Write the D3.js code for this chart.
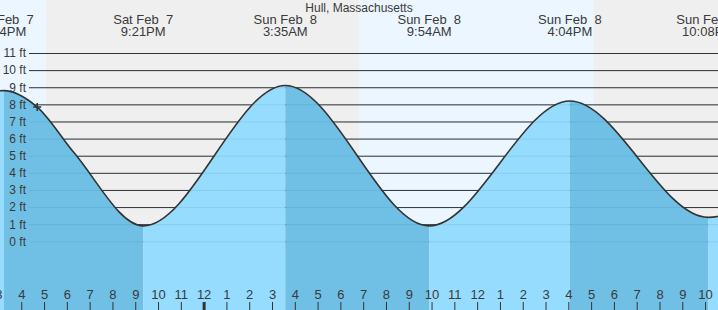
<!DOCTYPE html>
<html>
<head>
<meta charset="utf-8">
<script src="https://cdn.jsdelivr.net/npm/d3@7"></script>
<style>
    body { margin: 0; background: #fff; }
    text { font-family: "Liberation Sans", Arial, sans-serif; fill: #3a3a3a; }
</style>
</head>
<body>
<div id="chart"></div>
<script>
const station = "Hull, Massachusetts";

// tide extremes (first and last are just outside the window)
const tideTimes = ["2026-02-07 09:02", "2026-02-07 15:14", "2026-02-07 21:21", "2026-02-08 03:35",
    "2026-02-08 09:54", "2026-02-08 16:04", "2026-02-08 22:08", "2026-02-09 04:20"];
const tideHeights = [0.7, 8.8, 0.9, 9.1, 0.9, 8.2, 1.4, 8.9];
const tideDays = ["Sat Feb  7", "Sat Feb  7", "Sat Feb  7", "Sun Feb  8", "Sun Feb  8", "Sun Feb  8", "Sun Feb  8", "Mon Feb  9"];
const tideClock = ["9:02AM", "3:14PM", "9:21PM", "3:35AM", "9:54AM", "4:04PM", "10:08PM", "4:20AM"];

const extraTimes = ["2026-02-07 16:42", "2026-02-07 18:18"];
const extraHeights = [7.84, 5.2];

// daylight
const sunrise = ["2026-02-07 06:51", "2026-02-08 06:49"];
const sunset = ["2026-02-07 17:05", "2026-02-08 17:06"];

// "now" marker
const nowTime = "2026-02-07 16:42";
const nowHeight = 7.84;

const yTicks = [0, 1, 2, 3, 4, 5, 6, 7, 8, 9, 10, 11];
const windowStart = "2026-02-07 15:04", windowEnd = "2026-02-08 22:34";

const W = 718, H = 310;
const parse = d3.utcParse("%Y-%m-%d %H:%M");

const tides = tideTimes.map((t, i) => ({ t: parse(t), h: tideHeights[i], day: tideDays[i], clock: tideClock[i] }));
const curve = tides
    .map(d => ({ t: d.t, h: d.h }))
    .concat(extraTimes.map((t, i) => ({ t: parse(t), h: extraHeights[i] })))
    .sort((a, b) => a.t - b.t);

const x = d3.scaleUtc()
    .domain([parse(windowStart), parse(windowEnd)])
    .range([0, W]);

const y = d3.scaleLinear()
    .domain([0, 11])
    .range([241.3, 53]);

const svg = d3.select("#chart").append("svg")
    .attr("width", W)
    .attr("height", H);

// night background, then daylight bands
svg.append("rect")
    .attr("width", W).attr("height", H)
    .attr("fill", "#efefef");

const days = sunrise.map((s, i) => [parse(s), parse(sunset[i])]);
svg.selectAll(".day").data(days).join("rect")
    .attr("class", "day")
    .attr("x", d => x(d[0]))
    .attr("width", d => x(d[1]) - x(d[0]))
    .attr("y", 0)
    .attr("height", H)
    .attr("fill", "#ebf6ff");

// grid lines behind the water
const gridAxis = d3.axisLeft(y).tickValues(yTicks).tickSize(W - 29).tickFormat("");
const grid = svg.append("g")
    .attr("transform", `translate(${W},0)`)
    .call(gridAxis);
grid.select(".domain").remove();
grid.selectAll("line").attr("stroke", "#333");

// water area, rising = light, falling = dark
const area = d3.area()
    .x(d => x(d.t))
    .y0(H)
    .y1(d => y(d.h))
    .curve(d3.curveMonotoneX);

const line = d3.line()
    .x(d => x(d.t))
    .y(d => y(d.h))
    .curve(d3.curveMonotoneX);

const defs = svg.append("defs");
const segments = tides.slice(1).map((d, i) => ({ a: tides[i], b: d, falling: d.h < tides[i].h }));

segments.forEach((s, i) => {
    defs.append("clipPath")
        .attr("id", `seg${i}`)
        .append("rect")
        .attr("x", x(s.a.t))
        .attr("width", x(s.b.t) - x(s.a.t))
        .attr("y", 0)
        .attr("height", H);

    svg.append("path")
        .datum(curve)
        .attr("clip-path", `url(#seg${i})`)
        .attr("fill", s.falling ? "#70bfe4" : "#96dcfe")
        .attr("d", area);
});

// faint grid lines showing through the water
const faint = svg.append("g")
    .attr("transform", `translate(${W},0)`)
    .call(gridAxis);
faint.select(".domain").remove();
faint.selectAll("line").attr("stroke", "rgba(0,70,110,0.09)");

svg.append("path")
    .datum(curve)
    .attr("fill", "none")
    .attr("stroke", "#333")
    .attr("stroke-width", 1.6)
    .attr("d", line);

// y labels
const yLabels = svg.append("g")
    .attr("transform", `translate(${W},0)`)
    .call(d3.axisLeft(y).tickValues(yTicks).tickSize(W - 29).tickPadding(3).tickFormat(d => `${d} ft`));
yLabels.select(".domain").remove();
yLabels.selectAll("line").remove();
yLabels.selectAll("text")
    .style("font-size", "12px")
    .style("font-family", null)
    .attr("fill", null);

// now marker
svg.append("path")
    .attr("transform", `translate(${x(parse(nowTime))},${y(nowHeight)})`)
    .attr("d", "M-4,0H4M0,-4V4")
    .attr("stroke", "#333")
    .attr("stroke-width", 1.5);

// hour axis along the bottom (first hour sits just off the left edge)
const hours = d3.utcHour.range(d3.utcHour.floor(x.domain()[0]), x.domain()[1]);
const xAxis = svg.append("g")
    .attr("transform", `translate(0,${H})`)
    .call(d3.axisTop(x)
        .tickValues(hours)
        .tickSize(8)
        .tickPadding(3)
        .tickFormat(d => d.getUTCHours() % 12 || 12));
xAxis.select(".domain").remove();
xAxis.selectAll("line")
    .attr("stroke", "#333")
    .attr("stroke-width", d => d.getUTCHours() === 0 ? 3 : 1);
xAxis.selectAll("text")
    .style("font-size", "13px")
    .style("font-family", null)
    .attr("fill", null);

// title and tide labels
svg.append("text")
    .attr("x", W / 2)
    .attr("y", 12)
    .attr("text-anchor", "middle")
    .style("font-size", "12px")
    .text(station);

const labels = svg.selectAll(".tide-label").data(tides.slice(1, -1)).join("text")
    .attr("class", "tide-label")
    .attr("text-anchor", "middle")
    .style("font-size", "13px")
    .style("white-space", "pre");

labels.append("tspan")
    .attr("x", d => x(d.t))
    .attr("y", 24)
    .text(d => d.day);

labels.append("tspan")
    .attr("x", d => x(d.t))
    .attr("y", 36)
    .text(d => d.clock);
</script>
</body>
</html>
